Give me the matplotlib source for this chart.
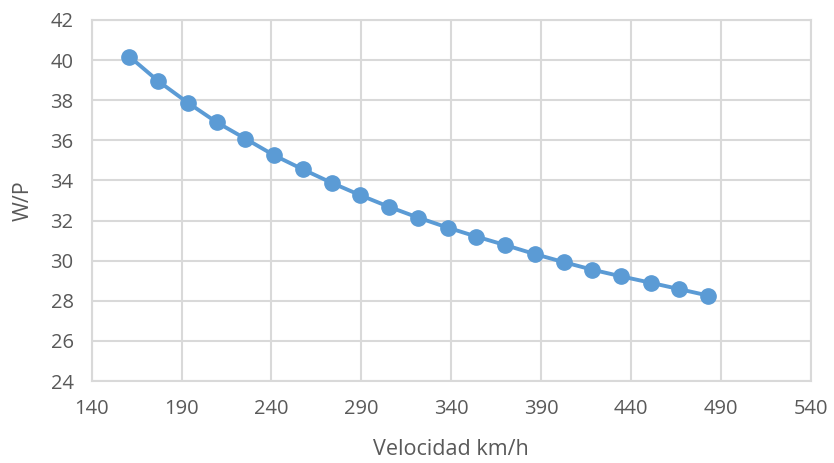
import matplotlib.pyplot as plt

# velocidad (km/h) y relacion W/P
velocidad = [161, 177, 193.5, 209.5, 225.5, 241.5, 257.5, 273.5, 289.5, 305.5, 321.5,
             338, 354, 370, 386.5, 402.5, 418.5, 434.5, 451, 467, 483]
wp = [40.17, 38.95, 37.87, 36.9, 36.08, 35.25, 34.55, 33.88, 33.26, 32.68, 32.15,
      31.65, 31.2, 30.78, 30.33, 29.93, 29.55, 29.22, 28.9, 28.58, 28.26]

x_ticks = list(range(140, 541, 50))
y_ticks = list(range(24, 43, 2))

plt.rcParams["font.family"] = ["Open Sans", "DejaVu Sans"]

txt = "#595959"
grid = "#D9D9D9"
azul = "#5B9BD5"

fig = plt.figure(figsize=(8.34, 4.63), dpi=100)
ax = fig.add_axes([0.110, 0.177, 0.862, 0.780])

ax.plot(velocidad, wp, color=azul, lw=2.8, marker="o", ms=11, zorder=3)

ax.set_xlim(140, 540)
ax.set_ylim(24, 42)
ax.set_xticks(x_ticks)
ax.set_yticks(y_ticks)
ax.grid(True, color=grid, lw=1.5)
for s in ax.spines.values():
    s.set_color(grid)
    s.set_linewidth(1.5)
ax.tick_params(length=0, labelsize=14.5, colors=txt, pad=13)
ax.set_xlabel("Velocidad km/h", fontsize=15.5, color=txt, labelpad=14)
ax.set_ylabel("W/P", fontsize=15.5, color=txt, labelpad=12)

fig.savefig("out.png", dpi=100)
